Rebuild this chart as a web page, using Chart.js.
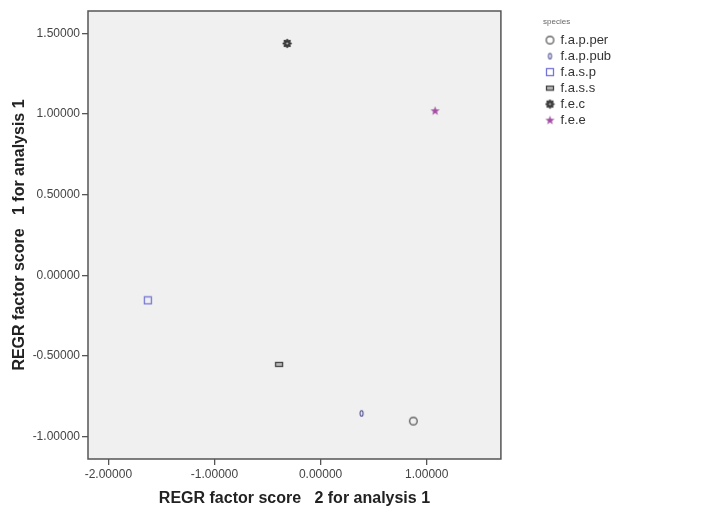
<!DOCTYPE html>
<html>
<head>
<meta charset="utf-8">
<script src="https://cdn.jsdelivr.net/npm/chart.js@4/dist/chart.umd.min.js"></script>
<style>
  body { margin: 0; background: #fff; }
</style>
</head>
<body>
<canvas id="scores" width="723" height="509"></canvas>
<script>
const species = ['f.a.p.per', 'f.a.p.pub', 'f.a.s.p', 'f.a.s.s', 'f.e.c', 'f.e.e'];
const score2 = [0.874, 0.386, -1.628, -0.391, -0.315, 1.079];   // x
const score1 = [-0.903, -0.855, -0.155, -0.552, 1.437, 1.020];  // y
const xTicks = [-2, -1, 0, 1];
const yTicks = [-1, -0.5, 0, 0.5, 1, 1.5];

// little canvases used as point styles (SPSS-like markers)
function marker(w, h, draw) {
  const c = document.createElement('canvas');
  c.width = w; c.height = h;
  draw(c.getContext('2d'));
  return c;
}

const markers = [
  marker(11, 11, g => { // open circle
    g.strokeStyle = '#666'; g.lineWidth = 1.4;
    g.beginPath(); g.arc(5.5, 5.5, 3.8, 0, Math.PI * 2); g.stroke();
  }),
  marker(7, 9, g => { // thin ellipse
    g.strokeStyle = '#4b4b8e'; g.lineWidth = 1.1;
    g.beginPath(); g.ellipse(3.5, 4.5, 1.5, 2.8, 0, 0, Math.PI * 2); g.stroke();
  }),
  marker(10, 10, g => { // open square
    g.strokeStyle = '#7474d8'; g.lineWidth = 1.3;
    g.strokeRect(1.5, 1.5, 7, 7);
  }),
  marker(10, 7, g => { // flat rectangle
    g.fillStyle = '#bbb'; g.fillRect(1.5, 1.5, 7, 4);
    g.strokeStyle = '#444'; g.lineWidth = 1.3;
    g.strokeRect(1.5, 1.5, 7, 4);
  }),
  marker(11, 11, g => { // dark gear
    g.fillStyle = '#3a3a3a';
    g.beginPath(); g.arc(5.5, 5.5, 3.4, 0, Math.PI * 2); g.fill();
    for (let i = 0; i < 8; i++) {
      const a = i * Math.PI / 4;
      g.beginPath(); g.arc(5.5 + Math.cos(a) * 3.6, 5.5 + Math.sin(a) * 3.6, 1.1, 0, Math.PI * 2); g.fill();
    }
    g.fillStyle = '#ccc';
    g.beginPath(); g.arc(5.5, 5.5, 1, 0, Math.PI * 2); g.fill();
  }),
  marker(11, 11, g => { // star
    g.fillStyle = '#a24ea2';
    g.beginPath();
    for (let i = 0; i < 10; i++) {
      const r = i % 2 ? 2 : 4.8;
      const a = -Math.PI / 2 + i * Math.PI / 5;
      g.lineTo(5.5 + r * Math.cos(a), 5.8 + r * Math.sin(a));
    }
    g.closePath(); g.fill();
  }),
];

const datasets = species.map((name, i) => ({
  label: name,
  data: [{ x: score2[i], y: score1[i] }],
  pointStyle: markers[i],
  pointRadius: 5,
}));

const plotFrame = {
  id: 'plotFrame',
  beforeDatasetsDraw(chart) {
    const { ctx, chartArea: a } = chart;
    ctx.save();
    ctx.fillStyle = '#f0f0f0';
    ctx.fillRect(a.left, a.top, a.width, a.height);
    ctx.strokeStyle = '#555';
    ctx.lineWidth = 1.5;
    ctx.strokeRect(a.left, a.top, a.width, a.height);
    ctx.restore();
  },
  afterLayout(chart) {
    // push the legend away from the plot, like SPSS does
    const lg = chart.legend;
    const dx = 543 - lg.left;
    lg.left += dx;
    lg.right += dx;
  },
};

const tickFont = { family: 'Liberation Sans', size: 12 };
const titleFont = { family: 'Liberation Sans', size: 16, weight: 'bold' };
const fmt = v => Number(v).toFixed(5);

new Chart(document.getElementById('scores'), {
  type: 'scatter',
  data: { datasets },
  options: {
    responsive: false,
    animation: false,
    layout: { padding: { top: 11, right: 144, bottom: 0, left: 0 } },
    scales: {
      x: {
        min: -2.192,
        max: 1.699,
        afterBuildTicks: s => { s.ticks = xTicks.map(v => ({ value: v })); },
        afterFit: s => { s.height = 50; },
        border: { display: false },
        grid: { drawOnChartArea: false, tickLength: 6, tickColor: '#555', lineWidth: 1.3 },
        ticks: { font: tickFont, color: '#444', padding: 2, maxRotation: 0, callback: fmt },
        title: {
          display: true,
          text: 'REGR factor score   2 for analysis 1',
          font: titleFont,
          color: '#222',
          padding: { top: 0, bottom: 1 },
        },
      },
      y: {
        min: -1.138,
        max: 1.638,
        afterBuildTicks: s => { s.ticks = yTicks.map(v => ({ value: v })); },
        afterFit: s => { s.width = 88; },
        border: { display: false },
        grid: { drawOnChartArea: false, tickLength: 6, tickColor: '#555', lineWidth: 1.3 },
        ticks: { font: tickFont, color: '#444', padding: 2, callback: fmt },
        title: {
          display: true,
          text: 'REGR factor score   1 for analysis 1',
          font: titleFont,
          color: '#222',
          padding: { top: 10, bottom: 0 },
        },
      },
    },
    plugins: {
      legend: {
        position: 'right',
        align: 'start',
        title: {
          display: true,
          text: 'species',
          position: 'start',
          color: '#666',
          font: { family: 'Liberation Sans', size: 8 },
          padding: { top: 7, bottom: 3 },
        },
        labels: {
          usePointStyle: true,
          boxWidth: 8,
          padding: 3,
          color: '#333',
          font: { family: 'Liberation Sans', size: 13 },
        },
      },
      tooltip: { enabled: false },
    },
  },
  plugins: [plotFrame],
});
</script>
</body>
</html>
